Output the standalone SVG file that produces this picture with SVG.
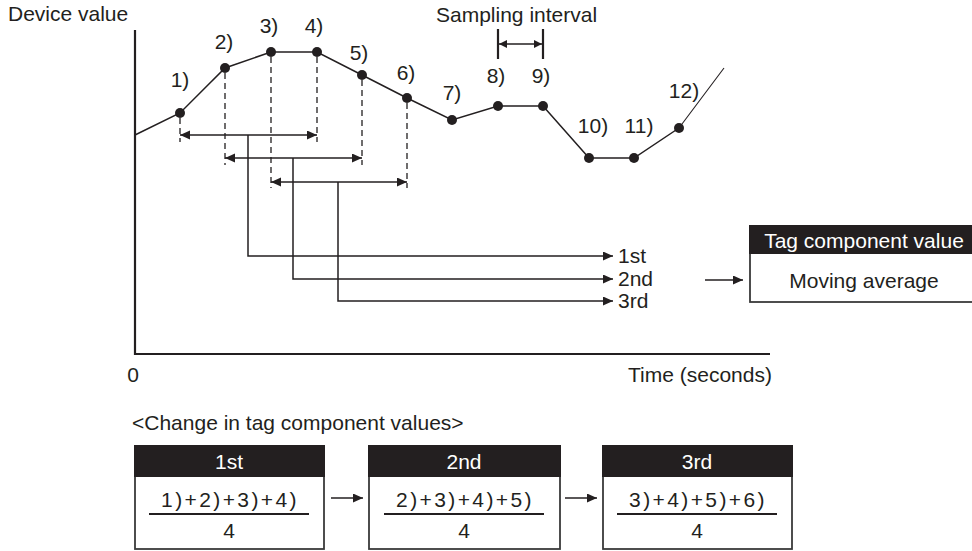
<svg xmlns="http://www.w3.org/2000/svg" width="972" height="551" viewBox="0 0 972 551">
<style>
text{font-family:"Liberation Sans",Arial,sans-serif;font-size:21px;fill:#231f20}
.c{text-anchor:middle}
.w{fill:#fff}
.ln{fill:none;stroke:#231f20;stroke-width:1.5}
.ax{fill:none;stroke:#231f20;stroke-width:2.2}
.ds{fill:none;stroke:#231f20;stroke-width:1.3;stroke-dasharray:6,4}
.pt{fill:#231f20}
.box{fill:#fff;stroke:#3a3a3a;stroke-width:1.8}
.hd{fill:#231f20}
.fr{letter-spacing:2.4px}
</style>
<defs>
<marker id="ah" markerUnits="userSpaceOnUse" markerWidth="11" markerHeight="10" refX="10" refY="4.5" orient="auto-start-reverse"><path d="M0,0 L10,4.5 L0,9 z" fill="#231f20"/></marker>
<marker id="as" markerUnits="userSpaceOnUse" markerWidth="9" markerHeight="9" refX="8" refY="4" orient="auto-start-reverse"><path d="M0,0 L8,4 L0,8 z" fill="#231f20"/></marker>
</defs>

<g id="axes">
<path class="ax" d="M135,30 V354 H770"/>
<text x="8" y="21">Device value</text>
<text x="133" y="382" class="c">0</text>
<text x="628" y="382">Time (seconds)</text>
</g>

<g id="curve">
<path class="ln" d="M135,135 L180,113 L225,68 L271,52 L317,52 L362,75 L407,98 L452,120 L498,106 L543,106 L589,158 L634,158 L679,128"/>
<path fill="none" stroke="#231f20" stroke-width="1.1" d="M679,128 L724,68"/>
</g>

<g id="points">
<g id="p1"><circle class="pt" cx="180" cy="113" r="5"/><text class="c" x="180" y="87">1)</text></g>
<g id="p2"><circle class="pt" cx="225" cy="68" r="5"/><text class="c" x="224" y="49">2)</text></g>
<g id="p3"><circle class="pt" cx="271" cy="52" r="5"/><text class="c" x="269" y="33">3)</text></g>
<g id="p4"><circle class="pt" cx="317" cy="52" r="5"/><text class="c" x="314" y="33">4)</text></g>
<g id="p5"><circle class="pt" cx="362" cy="75" r="5"/><text class="c" x="359" y="60">5)</text></g>
<g id="p6"><circle class="pt" cx="407" cy="98" r="5"/><text class="c" x="406" y="80">6)</text></g>
<g id="p7"><circle class="pt" cx="452" cy="120" r="5"/><text class="c" x="452" y="100">7)</text></g>
<g id="p8"><circle class="pt" cx="498" cy="106" r="5"/><text class="c" x="496" y="83">8)</text></g>
<g id="p9"><circle class="pt" cx="543" cy="106" r="5"/><text class="c" x="541" y="83">9)</text></g>
<g id="p10"><circle class="pt" cx="589" cy="158" r="5"/><text class="c" x="593" y="133">10)</text></g>
<g id="p11"><circle class="pt" cx="634" cy="158" r="5"/><text class="c" x="639" y="133">11)</text></g>
<g id="p12"><circle class="pt" cx="679" cy="128" r="5"/><text class="c" x="684" y="98">12)</text></g>
</g>

<g id="sampling">
<text x="436" y="22">Sampling interval</text>
<path stroke="#231f20" stroke-width="2.2" d="M498,29 V59 M543,29 V59"/>
<path class="ln" d="M499,44 H542" marker-start="url(#as)" marker-end="url(#as)"/>
</g>

<g id="guides">
<path class="ds" d="M180,118 V142 M225,73 V165 M271,57 V188 M317,57 V142 M362,80 V165 M407,103 V188"/>
</g>

<g id="connectors">
<path class="ln" d="M180,135 H317" marker-start="url(#ah)" marker-end="url(#ah)"/>
<path class="ln" d="M225,158 H362" marker-start="url(#ah)" marker-end="url(#ah)"/>
<path class="ln" d="M271,182 H407" marker-start="url(#ah)" marker-end="url(#ah)"/>
<path class="ln" d="M248,135 V256 H613" marker-end="url(#ah)"/>
<path class="ln" d="M293,158 V279 H613" marker-end="url(#ah)"/>
<path class="ln" d="M338,182 V301 H613" marker-end="url(#ah)"/>
<path class="ln" d="M705,280 H743" marker-end="url(#ah)"/>
<path class="ln" d="M331,498 H363" marker-end="url(#ah)"/>
<path class="ln" d="M565,498 H597" marker-end="url(#ah)"/>
</g>

<g id="labels">
<text x="618" y="263">1st</text>
<text x="618" y="286">2nd</text>
<text x="618" y="308">3rd</text>
</g>

<g id="tag-box">
<rect class="box" x="750" y="226" width="230" height="76"/>
<rect class="hd" x="749" y="225" width="232" height="29"/>
<text class="c w" x="864" y="248">Tag component value</text>
<text class="c" x="864" y="288">Moving average</text>
</g>

<text x="132" y="430">&lt;Change in tag component values&gt;</text>

<g id="box-1st">
<rect class="box" x="135" y="446" width="189" height="103"/>
<rect class="hd" x="134" y="445" width="191" height="32"/>
<text class="c w" x="229" y="469">1st</text>
<text class="c fr" x="230" y="507">1)+2)+3)+4)</text>
<path stroke="#231f20" stroke-width="2" d="M149,514 H309"/>
<text class="c" x="229" y="538">4</text>
</g>

<g id="box-2nd">
<rect class="box" x="369" y="446" width="191" height="103"/>
<rect class="hd" x="368" y="445" width="193" height="32"/>
<text class="c w" x="464" y="469">2nd</text>
<text class="c fr" x="465" y="507">2)+3)+4)+5)</text>
<path stroke="#231f20" stroke-width="2" d="M384,514 H544"/>
<text class="c" x="464" y="538">4</text>
</g>

<g id="box-3rd">
<rect class="box" x="603" y="446" width="189" height="103"/>
<rect class="hd" x="602" y="445" width="191" height="32"/>
<text class="c w" x="697" y="469">3rd</text>
<text class="c fr" x="698" y="507">3)+4)+5)+6)</text>
<path stroke="#231f20" stroke-width="2" d="M617,514 H777"/>
<text class="c" x="697" y="538">4</text>
</g>
</svg>
